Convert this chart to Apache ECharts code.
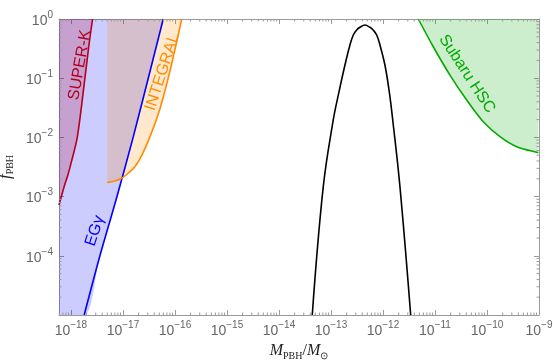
<!DOCTYPE html>
<html><head><meta charset="utf-8">
<script src="https://cdn.jsdelivr.net/npm/echarts@6/dist/echarts.min.js"></script>
<style>html,body{margin:0;padding:0;background:#fff}#c{width:553px;height:364px}</style>
</head><body><div id="c"></div>
<script>
// ---- axis ranges & ticks ----
const xMin = 5.9e-19, xMax = 1e-9;
const yMin = 1e-5, yMax = 1;
const xMajorTicks = [1e-18, 1e-17, 1e-16, 1e-15, 1e-14, 1e-13, 1e-12, 1e-11, 1e-10, 1e-9];
const yMajorTicks = [1e-5, 1e-4, 1e-3, 1e-2, 1e-1, 1];
const yLabelTicks = [1e-4, 1e-3, 1e-2, 1e-1, 1];
const minorMultipliers = [2, 3, 4, 5, 6, 7, 8, 9];

// ---- constraint curves (M in solar masses, f_PBH) ----
const superkM = [5.9e-19, 7.67e-19, 8.75e-19, 1.045e-18, 1.33e-18, 1.86e-18, 2.22e-18, 2.61e-18];
const superkF = [7.2e-4, 1.63e-3, 2.32e-3, 4.17e-3, 1.02e-2, 0.1, 0.363, 1.0];

const egyM = [1.80e-18, 3.61e-18, 7.5e-18, 1.58e-17, 3.07e-17, 5.96e-17];
const egyF = [1e-5, 1e-4, 9.3e-4, 1.02e-2, 0.1, 1.0];

const integralM = [5.0e-18, 7.0e-18, 9.44e-18, 1.26e-17, 1.70e-17, 2.32e-17, 3.30e-17, 5.15e-17, 8.02e-17, 1.35e-16];
const integralF = [1.74e-3, 1.84e-3, 2.04e-3, 2.48e-3, 3.2e-3, 5.04e-3, 1.02e-2, 3.06e-2, 0.132, 1.0];

const subaruM = [4.78e-12, 9.27e-12, 1.94e-11, 4.07e-11, 8.49e-11, 1.78e-10, 3.72e-10, 9.70e-10, 1e-9];
const subaruF = [1.0, 0.340, 0.113, 4.28e-2, 1.84e-2, 1.03e-2, 6.97e-3, 5.52e-3, 5.5e-3];

const pbhM = [4.37e-14, 7.11e-14, 1.107e-13, 1.43e-13, 1.858e-13, 2.317e-13, 2.69e-13, 3.119e-13, 3.61e-13, 4.508e-13, 5.62e-13, 6.457e-13, 7.57e-13, 8.75e-13, 1.09e-12, 1.32e-12, 1.54e-12, 2.12e-12, 3.41e-12];
const pbhF = [1e-5, 1.47e-3, 1.97e-2, 5.92e-2, 0.167, 0.364, 0.537, 0.652, 0.724, 0.792, 0.724, 0.652, 0.537, 0.364, 0.167, 5.92e-2, 1.97e-2, 1.47e-3, 1e-5];

// ---- labels (anchored in data coordinates) ----
const labelTexts = ['SUPER-K', 'INTEGRAL', 'EGγ', 'Subaru HSC'];
const labelM = [1.49e-18, 5.75e-17, 2.9e-18, 4.12e-11];
const labelF = [0.167, 0.127, 2.63e-4, 0.118];
const labelAngle = [80, 72, 72, -57];
const labelColor = ['#b4001e', '#ff8c00', '#0000ff', '#00aa00'];

const zip = (a, b) => a.map((v, i) => [v, b[i]]);
function minorTicks(lo, hi) {
  const out = [];
  for (let e = -20; e <= 1; e++) minorMultipliers.forEach(k => { const v = k * Math.pow(10, e); if (v >= lo && v <= hi) out.push(v); });
  return out;
}
const frameColor = '#9a9a9a';
const labelGrey = '#666666';
const supFmt = v => { const e = v > 0 ? Math.round(Math.log10(v)) : Math.round(v); return '{b|10}{s|' + (e < 0 ? '\u2212' + (-e) : e) + '}'; };
const richLab = {
  b: { fontSize: 14, fontFamily: 'Liberation Sans', color: labelGrey, lineHeight: 18, verticalAlign: 'bottom' },
  s: { fontSize: 10, fontFamily: 'Liberation Sans', color: labelGrey, lineHeight: 10, verticalAlign: 'top' }
};

function baseAxis(min, max, pos, extra) {
  return Object.assign({
    type: 'log', logBase: 10, min: min, max: max, position: pos,
    splitLine: { show: false }, minorTick: { show: false }, minorSplitLine: { show: false },
    axisLine: { show: true, onZero: false, lineStyle: { color: frameColor, width: 1 } },
    axisLabel: { show: false }
  }, extra);
}
const xMinor = minorTicks(xMin, xMax), yMinor = minorTicks(yMin, yMax);
const majorTick = vals => ({ show: true, inside: true, length: 5, customValues: vals, lineStyle: { color: frameColor, width: 1 } });

const xAxes = [
  baseAxis(xMin, xMax, 'bottom', {
    axisTick: majorTick(xMajorTicks),
    axisLabel: { show: true, customValues: xMajorTicks, formatter: supFmt, rich: richLab, margin: 5, hideOverlap: false },
    name: '{i|M}{s|PBH}{r|/}{i|M}{s|\u2299}', nameLocation: 'middle', nameGap: 28,
    nameTextStyle: { rich: {
      i: { fontFamily: 'Liberation Serif', fontStyle: 'italic', fontSize: 16, color: '#222', lineHeight: 18, verticalAlign: 'top' },
      r: { fontFamily: 'Liberation Serif', fontSize: 16, color: '#222', lineHeight: 18, verticalAlign: 'top' },
      s: { fontFamily: 'Liberation Serif', fontSize: 10, color: '#222', lineHeight: 12, verticalAlign: 'bottom' } } }
  }),
  baseAxis(xMin, xMax, 'top', { axisTick: majorTick(xMajorTicks) })
];
const yAxes = [
  baseAxis(yMin, yMax, 'left', {
    axisTick: majorTick(yMajorTicks),
    axisLabel: { show: true, customValues: yLabelTicks, formatter: supFmt, rich: richLab, margin: 6, hideOverlap: false },
    name: '{i|f}{s|PBH}', nameLocation: 'middle', nameGap: 36, nameRotate: 90,
    nameTextStyle: { rich: {
      i: { fontFamily: 'Liberation Serif', fontStyle: 'italic', fontSize: 17, color: '#222', lineHeight: 18, verticalAlign: 'top' },
      s: { fontFamily: 'Liberation Serif', fontSize: 10, color: '#222', lineHeight: 12, verticalAlign: 'bottom' } } }
  }),
  baseAxis(yMin, yMax, 'right', { axisTick: majorTick(yMajorTicks) })
];

function fill(data, color) {
  return { type: 'line', data: data, symbol: 'none', silent: true, smooth: 0.3, lineStyle: { width: 0, opacity: 0 }, areaStyle: { origin: 'end', color: color, opacity: 1 }, z: 1 };
}
function curve(data, color, w, sm) {
  return { type: 'line', data: data, symbol: 'none', silent: true, smooth: sm || 0.3, lineStyle: { width: w || 1.6, color: color }, z: 3 };
}
// minor ticks drawn on all four frame sides through the axes' scales
function minorTickSeries(vals, isX) {
  return {
    type: 'custom', silent: true, clip: false, z: 5,
    data: vals.map(v => isX ? [v, yMin] : [xMin, v]),
    renderItem: (params, api) => {
      const cs = params.coordSys;
      const p = api.coord([api.value(0), api.value(1)]);
      const L = 2.5, st = { stroke: frameColor, lineWidth: 1 };
      const lines = isX
        ? [[p[0], cs.y + cs.height, p[0], cs.y + cs.height - L], [p[0], cs.y, p[0], cs.y + L]]
        : [[cs.x, p[1], cs.x + L, p[1]], [cs.x + cs.width, p[1], cs.x + cs.width - L, p[1]]];
      return { type: 'group', children: lines.map(l => ({ type: 'line', shape: { x1: l[0], y1: l[1], x2: l[2], y2: l[3] }, style: st })) };
    }
  };
}

const chart = echarts.init(document.getElementById('c'), null, { renderer: 'canvas' });
chart.setOption({
  animation: false,
  backgroundColor: '#fff',
  grid: { left: 59, right: 14, top: 19, bottom: 49, containLabel: false, outerBoundsMode: 'none' },
  xAxis: xAxes,
  yAxis: yAxes,
  series: [
    fill([[xMin, yMin]].concat(zip(egyM, egyF)), 'rgba(0,0,255,0.2)'),
    fill(zip(integralM, integralF), 'rgba(255,140,0,0.2)'),
    fill(zip(superkM, superkF), 'rgba(180,0,30,0.21)'),
    fill(zip(subaruM, subaruF), 'rgba(0,170,0,0.2)'),
    curve(zip(superkM, superkF), '#b4001e'),
    curve(zip(egyM, egyF), '#0000ff'),
    curve(zip(integralM, integralF), '#ff8c00'),
    curve(zip(subaruM, subaruF), '#00aa00'),
    curve(zip(pbhM, pbhF), '#000000', 1.6, 0.4),
    minorTickSeries(xMinor, true),
    minorTickSeries(yMinor, false)
  ]
});
const g = labelTexts.map((t, i) => {
  const p = chart.convertToPixel({ xAxisIndex: 0, yAxisIndex: 0 }, [labelM[i], labelF[i]]);
  return { type: 'text', x: p[0], y: p[1], rotation: labelAngle[i] * Math.PI / 180, z: 10,
    style: { text: t, fill: labelColor[i], font: '16px "Liberation Sans"', align: 'center', verticalAlign: 'middle' } };
});
chart.setOption({ graphic: g });
</script></body></html>
